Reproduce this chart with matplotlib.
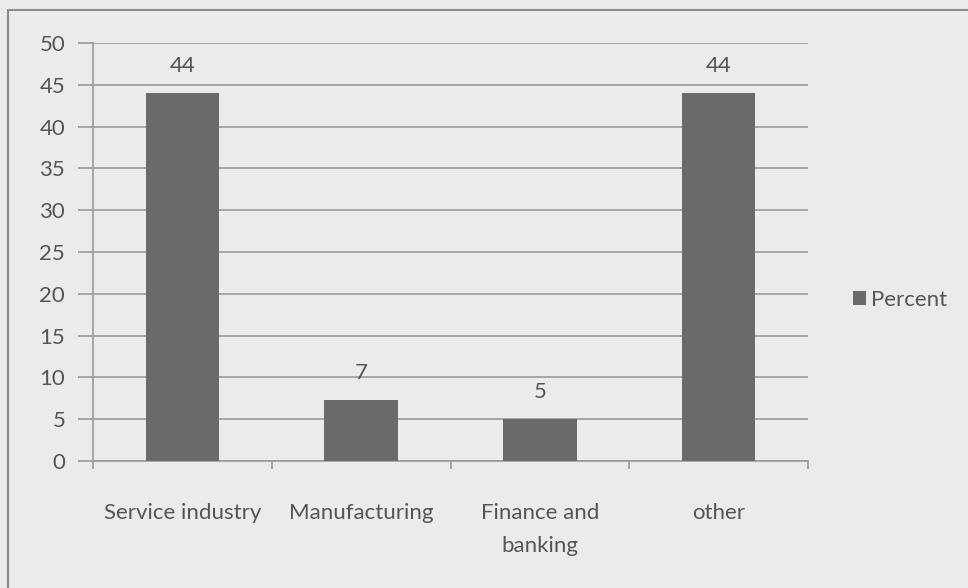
import matplotlib
matplotlib.use('Agg')
import matplotlib.pyplot as plt
import numpy as np
from matplotlib.patches import Rectangle

categories = ['Service industry', 'Manufacturing', 'Finance and\nbanking', 'other']
percent = [44, 7.3, 5, 44]
labels = ['44', '7', '5', '44']
yticks = [0, 5, 10, 15, 20, 25, 30, 35, 40, 45, 50]

plt.rcParams['font.family'] = ['Lato', 'DejaVu Sans']
text_col = '#555555'
grid_col = '#9a9a9a'

fig = plt.figure(figsize=(9.68, 5.88), dpi=100)
fig.patch.set_facecolor('#ebebeb')
fig.patches.append(Rectangle((8 / 968, -0.05), 1.0, 1 - 10 / 588 + 0.05,
                             transform=fig.transFigure, fill=False,
                             edgecolor='#8c8c8c', linewidth=1.5))

ax = fig.add_axes([93 / 968, 1 - 461 / 588, 715 / 968, 418 / 588])
ax.set_facecolor('none')

x = np.arange(len(categories))
bars = ax.bar(x, percent, width=0.41, color='#6a6a6a', label='Percent', zorder=3)
for b, lab in zip(bars, labels):
    ax.text(b.get_x() + b.get_width() / 2, b.get_height() + 2.0, lab,
            ha='center', va='bottom', fontsize=16, color=text_col)

ax.set_ylim(0, 50)
ax.set_xlim(-0.5, len(categories) - 0.5)
ax.set_yticks(yticks)
ax.yaxis.grid(True, color=grid_col, linewidth=1.2, zorder=0)
ax.tick_params(axis='y', length=11, color=grid_col, labelsize=16,
               labelcolor=text_col, width=1.2, pad=9)
ax.set_xticks(x)
ax.set_xticklabels(categories, fontsize=16, color=text_col, linespacing=1.85)
ax.set_xticks(np.arange(-0.5, len(categories)), minor=True)
ax.tick_params(axis='x', which='major', length=0, pad=30)
ax.tick_params(axis='x', which='minor', length=6, color=grid_col, width=1.2)

for s in ['top', 'right']:
    ax.spines[s].set_visible(False)
for s in ['left', 'bottom']:
    ax.spines[s].set_color(grid_col)
    ax.spines[s].set_linewidth(1.2)

fig.legend(handles=[bars], labels=['Percent'], loc='center left',
           bbox_to_anchor=(833 / 968, 1 - 300 / 588), frameon=False,
           fontsize=16, labelcolor=text_col, handlelength=0.6,
           handleheight=0.6, handletextpad=0.2)

plt.savefig('out.png', dpi=100, facecolor=fig.get_facecolor())
